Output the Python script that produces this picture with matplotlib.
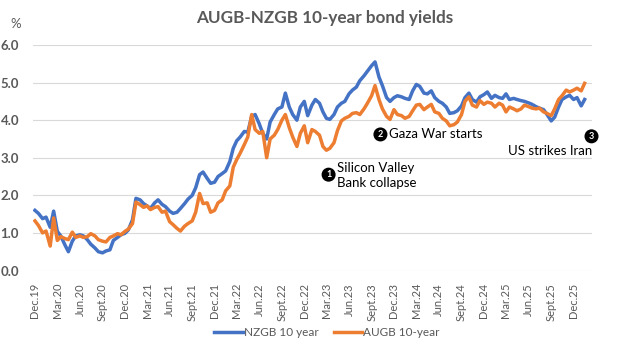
import matplotlib
matplotlib.use("Agg")
import matplotlib.pyplot as plt
import pandas as pd

# semi-monthly readings, Dec 2019 -> Feb 2026
nzgb = [1.60, 1.52, 1.38, 1.42, 1.15, 1.58, 1.04, 0.92, 0.68, 0.50,
        0.78, 0.92, 0.95, 0.92, 0.82, 0.70, 0.60, 0.50, 0.47, 0.52,
        0.55, 0.80, 0.88, 0.95, 0.99, 1.08, 1.35, 1.92, 1.88, 1.78,
        1.72, 1.65, 1.80, 1.88, 1.76, 1.70, 1.58, 1.52, 1.55, 1.65,
        1.78, 1.90, 2.00, 2.20, 2.55, 2.62, 2.45, 2.32, 2.35, 2.50,
        2.58, 2.65, 2.90, 3.25, 3.45, 3.55, 3.70, 3.68, 4.10, 4.15,
        3.90, 3.65, 3.50, 3.95, 4.15, 4.30, 4.35, 4.72, 4.35, 4.15,
        4.00, 4.35, 4.50, 4.12, 4.40, 4.55, 4.45, 4.22, 4.05, 4.02,
        4.15, 4.35, 4.45, 4.50, 4.70, 4.80, 4.88, 5.05, 5.18, 5.30,
        5.45, 5.55, 5.15, 4.92, 4.60, 4.50, 4.60, 4.65, 4.62, 4.58,
        4.55, 4.78, 4.95, 4.90, 4.72, 4.70, 4.78, 4.60, 4.50, 4.45,
        4.35, 4.18, 4.20, 4.25, 4.38, 4.60, 4.72, 4.55, 4.48, 4.62,
        4.68, 4.75, 4.58, 4.66, 4.60, 4.58, 4.70, 4.55, 4.58, 4.55,
        4.52, 4.50, 4.46, 4.42, 4.36, 4.32, 4.28, 4.15, 3.98, 4.08,
        4.35, 4.55, 4.62, 4.66, 4.55, 4.60, 4.38, 4.55]

augb = [1.32, 1.20, 1.00, 1.05, 0.65, 1.40, 0.80, 0.90, 0.85, 0.82,
        1.02, 0.88, 0.92, 0.88, 0.90, 0.98, 0.92, 0.82, 0.78, 0.76,
        0.88, 0.92, 0.98, 0.95, 1.04, 1.10, 1.25, 1.82, 1.75, 1.68,
        1.72, 1.62, 1.68, 1.70, 1.55, 1.58, 1.30, 1.22, 1.12, 1.05,
        1.18, 1.25, 1.32, 1.55, 2.05, 1.78, 1.80, 1.55, 1.60, 1.80,
        1.88, 2.12, 2.25, 2.75, 2.95, 3.12, 3.35, 3.55, 4.15, 3.75,
        3.65, 3.70, 3.00, 3.50, 3.60, 3.75, 4.00, 4.15, 3.80, 3.55,
        3.30, 3.65, 3.85, 3.40, 3.75, 3.70, 3.60, 3.30, 3.20, 3.25,
        3.40, 3.72, 3.98, 4.05, 4.10, 4.18, 4.20, 4.15, 4.30, 4.45,
        4.65, 4.92, 4.55, 4.30, 4.10, 4.02, 4.28, 4.15, 4.12, 4.05,
        4.10, 4.25, 4.40, 4.42, 4.28, 4.35, 4.42, 4.22, 4.18, 4.05,
        3.98, 3.85, 3.88, 3.95, 4.15, 4.50, 4.62, 4.40, 4.35, 4.52,
        4.42, 4.48, 4.45, 4.35, 4.45, 4.40, 4.22, 4.35, 4.30, 4.25,
        4.30, 4.40, 4.36, 4.32, 4.30, 4.32, 4.22, 4.18, 4.12, 4.30,
        4.55, 4.65, 4.80, 4.75, 4.80, 4.85, 4.78, 4.98]

dates = pd.date_range("2019-12-01", periods=len(nzgb), freq="SMS")

tick_dates = pd.date_range("2019-12-01", "2025-12-01", freq="3MS")
tick_labels = ["Dec.19", "Mar.20", "Jun.20", "Sept.20", "Dec.20",
               "Mar.21", "Jun.21", "Sept.21", "Dec.21",
               "Mar.22", "Jun.22", "Sept.22", "Dec.22",
               "Mar.23", "Jun.23", "Sept.23", "Dec.23",
               "Mar.24", "Jun.24", "Sept.24", "Dec.24",
               "Mar.25", "Jun.25", "Sept.25", "Dec.25"]

# (marker date, marker y, number)
events = [
    ("2023-03-10", 2.55, "1"),
    ("2023-10-07", 3.62, "2"),
    ("2026-02-12", 3.57, "3"),
]

plt.rcParams['font.family'] = ['Lato', 'DejaVu Sans']
grey = "#595959"

fig = plt.figure(figsize=(6.22, 3.5), dpi=100)
ax = fig.add_axes([33 / 622, 1 - 270.5 / 350, 559 / 622, 225.5 / 350])

ax.plot(dates, nzgb, color="#4472C4", lw=2.5, label="NZGB 10 year")
ax.plot(dates, augb, color="#ED7D31", lw=2.5, label="AUGB 10-year")

ax.set_ylim(0, 6)
ax.set_xlim(pd.Timestamp("2019-11-23"), pd.Timestamp("2026-02-14"))
ax.set_yticks(range(7))
ax.set_yticklabels([f"{v:.1f}" for v in range(7)], color=grey,
                   fontsize=9.5, fontweight="bold")
ax.set_xticks(tick_dates)
ax.set_xticklabels(tick_labels, rotation=90, color=grey, fontsize=8)
ax.tick_params(axis="both", length=0)
ax.tick_params(axis="y", pad=10)
ax.tick_params(axis="x", pad=9)
ax.grid(axis="y", color="#d9d9d9", lw=0.8)
ax.set_axisbelow(True)
for s in ax.spines.values():
    s.set_visible(False)

# event markers
for d, y, num in events:
    ax.text(pd.Timestamp(d), y, num, color="white", fontsize=6.5,
            fontweight="bold", ha="center", va="center",
            bbox=dict(boxstyle="circle,pad=0.2", fc="black", ec="black"))
ax.text(pd.Timestamp("2023-04-15"), 2.53, "Silicon Valley\nBank collapse",
        fontsize=9.5, va="center", ha="left", linespacing=1.3)
ax.text(pd.Timestamp("2023-11-10"), 3.62, "Gaza War starts",
        fontsize=9.5, va="center", ha="left")
ax.text(pd.Timestamp("2026-02-16"), 3.18, "US strikes Iran",
        fontsize=9.5, va="center", ha="right")

fig.text(325 / 622, 1 - 18 / 350, "AUGB-NZGB 10-year bond yields",
         ha="center", va="center", fontsize=12.3, fontweight="bold",
         color=grey)
fig.text(10 / 622, 1 - 24 / 350, "%", ha="left", va="center",
         fontsize=9.5, color=grey)

fig.legend(loc="center", bbox_to_anchor=(327 / 622, 1 - 333 / 350), ncol=2,
           frameon=False, fontsize=8.5, handlelength=2.4, handletextpad=0.1,
           columnspacing=1.3, labelcolor=grey)

fig.savefig("out.png", dpi=100)
